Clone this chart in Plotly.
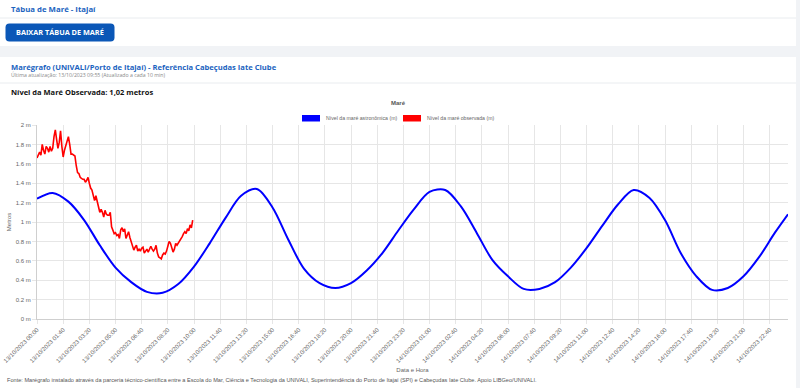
import plotly.graph_objects as go
import pandas as pd
from datetime import datetime

# ---------------- data ----------------
obs_start = "2023-10-13 00:00"
obs_step_min = 5
observed_m = [1.66,1.70,1.72,1.69,1.80,1.74,1.70,1.78,1.76,1.72,
              1.78,1.73,1.76,1.88,1.95,1.85,1.76,1.82,1.94,1.78,
              1.67,1.74,1.78,1.83,1.88,1.80,1.70,1.70,1.69,1.68,
              1.58,1.51,1.50,1.46,1.45,1.44,1.44,1.41,1.43,1.46,
              1.40,1.35,1.33,1.27,1.22,1.27,1.22,1.14,1.10,1.13,
              1.10,1.05,1.12,1.08,1.07,1.07,1.10,0.95,0.92,0.88,
              0.89,0.86,0.87,0.83,0.92,0.94,0.90,0.93,0.83,0.86,
              0.90,0.84,0.80,0.75,0.71,0.74,0.76,0.70,0.72,0.70,
              0.73,0.74,0.68,0.70,0.72,0.69,0.72,0.75,0.72,0.70,
              0.72,0.76,0.68,0.64,0.63,0.62,0.66,0.68,0.67,0.70,
              0.75,0.80,0.78,0.74,0.69,0.72,0.78,0.76,0.78,0.81,
              0.83,0.85,0.88,0.90,0.88,0.93,0.91,0.97,0.94,1.02]

astro_times = [f"2023-10-13 {h:02d}:00" for h in range(24)] + \
              [f"2023-10-14 {h:02d}:00" for h in range(24)] + ["2023-10-14 23:50"]
astro_m = [1.24,1.30,1.21,1.02,0.76,0.53,0.38,0.28,0.27,0.36,
           0.54,0.78,1.04,1.27,1.34,1.15,0.82,0.52,0.37,0.32,
           0.37,0.50,0.68,0.91,1.13,1.31,1.33,1.16,0.89,0.61,
           0.44,0.31,0.31,0.38,0.53,0.73,0.96,1.18,1.33,1.25,
           1.02,0.68,0.44,0.30,0.32,0.44,0.64,0.89,1.08]

x_tick_labels = ["13/10/2023 00:00","13/10/2023 01:40","13/10/2023 03:20","13/10/2023 05:00",
                 "13/10/2023 06:40","13/10/2023 08:20","13/10/2023 10:00","13/10/2023 11:40",
                 "13/10/2023 13:20","13/10/2023 15:00","13/10/2023 16:40","13/10/2023 18:20",
                 "13/10/2023 20:00","13/10/2023 21:40","13/10/2023 23:20","14/10/2023 01:00",
                 "14/10/2023 02:40","14/10/2023 04:20","14/10/2023 06:00","14/10/2023 07:40",
                 "14/10/2023 09:20","14/10/2023 11:00","14/10/2023 12:40","14/10/2023 14:20",
                 "14/10/2023 16:00","14/10/2023 17:40","14/10/2023 19:20","14/10/2023 21:00",
                 "14/10/2023 22:40"]
y_tick_values = [0, 0.2, 0.4, 0.6, 0.8, 1, 1.2, 1.4, 1.6, 1.8, 2]
y_tick_labels = ["0 m","0.2 m","0.4 m","0.6 m","0.8 m","1 m","1.2 m","1.4 m","1.6 m","1.8 m","2 m"]
x_range = ["2023-10-13 00:00", "2023-10-14 23:50"]

series_names = ["Nível da maré astronômica (m)", "Nível da maré observada (m)"]
series_colors = ["#0000ff", "#ff0000"]

# ---------------- figure ----------------
obs_times = pd.date_range(obs_start, periods=len(observed_m), freq=f"{obs_step_min}min")
tickvals = [datetime.strptime(s, "%d/%m/%Y %H:%M") for s in x_tick_labels]

W, H = 800, 388
L, R, T, B = 37, 12, 125, 69
PW, PH = W - L - R, H - T - B
BG = "#f1f3f6"

def px(x):
    return (x - L) / PW

def py(y):
    return (H - B - y) / PH

fig = go.Figure()
fig.add_trace(go.Scatter(x=astro_times, y=astro_m, mode="lines", name=series_names[0],
                         line=dict(color=series_colors[0], width=2, shape="spline", smoothing=0.9)))
fig.add_trace(go.Scatter(x=obs_times, y=observed_m, mode="lines", name=series_names[1],
                         line=dict(color=series_colors[1], width=1.6)))

TICKF = dict(family="Liberation Sans, Arial, sans-serif", size=6, color="#666666")
fig.update_xaxes(type="date", range=x_range, tickmode="array", tickvals=tickvals,
                 ticktext=x_tick_labels, tickangle=-45, tickfont=TICKF,
                 showgrid=True, gridcolor="#e6e6e6", gridwidth=1,
                 showline=True, linecolor="#cfcfcf", ticks="outside", ticklen=4,
                 tickcolor="#e6e6e6", zeroline=False,
                 title=dict(text="Data e Hora", font=dict(family="Liberation Sans, Arial", size=6, color="#666666"),
                            standoff=4))
fig.update_yaxes(range=[0, 2], tickmode="array", tickvals=y_tick_values, ticktext=y_tick_labels,
                 tickfont=TICKF, showgrid=True, gridcolor="#e6e6e6", gridwidth=1,
                 showline=True, linecolor="#cfcfcf", ticks="outside", ticklen=4,
                 tickcolor="#e6e6e6", zeroline=False,
                 title=dict(text="Metros", font=dict(family="Liberation Sans, Arial", size=6, color="#666666"),
                            standoff=3))

shapes = []
# cards
shapes.append(dict(type="rect", xref="paper", yref="paper", x0=px(0), x1=px(796), y0=py(46), y1=py(0),
                   fillcolor="white", line=dict(width=0), layer="below"))
shapes.append(dict(type="rect", xref="paper", yref="paper", x0=px(0), x1=px(796), y0=py(388), y1=py(57),
                   fillcolor="white", line=dict(width=0), layer="below"))
# separators
for yy in (18, 83):
    shapes.append(dict(type="line", xref="paper", yref="paper", x0=px(0), x1=px(796), y0=py(yy), y1=py(yy),
                       line=dict(color="#e9ecef", width=1)))
# button with rounded corners
bx0, bx1, by0, by1, r = 5.5, 114.5, 23.5, 41.5, 4
def P(x, y):
    return f"{px(x):.5f},{py(y):.5f}"
path = (f"M {P(bx0 + r, by0)} L {P(bx1 - r, by0)} Q {P(bx1, by0)} {P(bx1, by0 + r)} "
        f"L {P(bx1, by1 - r)} Q {P(bx1, by1)} {P(bx1 - r, by1)} "
        f"L {P(bx0 + r, by1)} Q {P(bx0, by1)} {P(bx0, by1 - r)} "
        f"L {P(bx0, by0 + r)} Q {P(bx0, by0)} {P(bx0 + r, by0)} Z")
shapes.append(dict(type="path", xref="paper", yref="paper", path=path,
                   fillcolor="#0b57b7", line=dict(width=0)))
# legend boxes
for (x0, x1), c in zip([(302, 320), (403, 421)], series_colors):
    shapes.append(dict(type="rect", xref="paper", yref="paper", x0=px(x0), x1=px(x1),
                       y0=py(121.5), y1=py(115), fillcolor=c, line=dict(width=0)))

HEAD = "Open Sans, Lato, sans-serif"
annotations = []
def note(text, x, y, size, color, xanchor="left", family=HEAD):
    annotations.append(dict(text=text, xref="paper", yref="paper", x=px(x), y=py(y),
                            xanchor=xanchor, yanchor="middle", showarrow=False,
                            font=dict(family=family, size=size, color=color)))

note("<b>Tábua de Maré - Itajaí</b>", 9, 9, 7.8, "#1b63c0")
note("<b>BAIXAR TÁBUA DE MARÉ</b>", 60, 32.5, 7.3, "white", xanchor="center")
note("<b>Marégrafo (UNIVALI/Porto de Itajaí) - Referência Cabeçudas Iate Clube</b>", 9, 66.5, 7.6, "#1b63c0")
note("Última atualização: 13/10/2023 09:55 (Atualizado a cada 10 min)", 9, 75.3, 5.2, "#888888")
note("<b>Nível da Maré Observada: 1,02 metros</b>", 9, 91.5, 7.5, "#111111")
note("<b>Maré</b>", 398.5, 103.3, 6, "#555555", xanchor="center", family="Liberation Sans, Arial")
note(series_names[0], 323.5, 118.3, 5.2, "#666666", family="Liberation Sans, Arial")
note(series_names[1], 424.5, 118.3, 5.2, "#666666", family="Liberation Sans, Arial")
note("Fonte: Marégrafo instalado através da parceria técnico-científica entre a Escola do Mar, Ciência e "
     "Tecnologia da UNIVALI, Superintendência do Porto de Itajaí (SPI) e Cabeçudas Iate Clube. Apoio LIBGeo/UNIVALI.",
     5, 380, 5.6, "#555555", family="Liberation Sans, Arial")

fig.update_layout(width=W, height=H, margin=dict(l=L, r=R, t=T, b=B, autoexpand=False),
                  paper_bgcolor=BG, plot_bgcolor="white", showlegend=False,
                  shapes=shapes, annotations=annotations,
                  font=dict(family="Liberation Sans, Arial", color="#666666"))

fig.write_html("out.html", config={"displayModeBar": False},
               post_script="document.body.style.margin='0';document.body.style.overflow='hidden';"
                           f"document.body.style.background='{BG}';")
